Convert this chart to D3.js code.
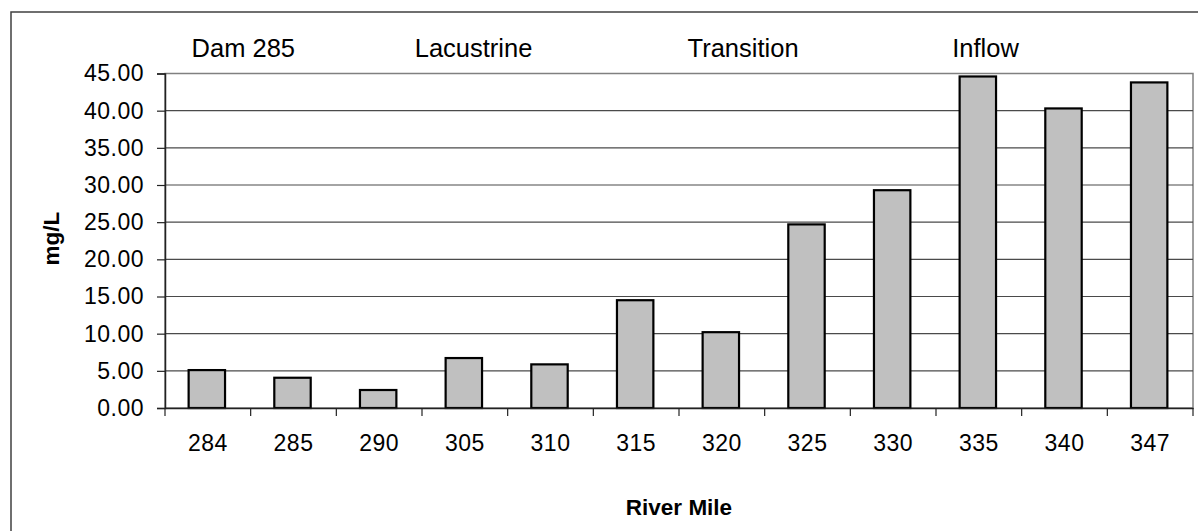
<!DOCTYPE html>
<html>
<head>
<meta charset="utf-8">
<script src="https://cdn.jsdelivr.net/npm/d3@7"></script>
<style>
  html, body { margin: 0; padding: 0; background: #fff; }
  svg { display: block; font-family: Arial, "Liberation Sans", sans-serif; }
</style>
</head>
<body>
<svg id="chart" width="1198" height="531"></svg>
<script>
const categories = ["284", "285", "290", "305", "310", "315", "320", "325", "330", "335", "340", "347"];
const values = [5.1, 4.07, 2.42, 6.72, 5.87, 14.5, 10.2, 24.7, 29.3, 44.6, 40.3, 43.8];
const yTicks = [0, 5, 10, 15, 20, 25, 30, 35, 40, 45];
const zoneLabels = ["Dam 285", "Lacustrine", "Transition", "Inflow"];
const yTitle = "mg/L";
const xTitle = "River Mile";

const svg = d3.select("#chart");
const plot = { left: 165, right: 1193, top: 73.5, bottom: 408 };

// outer frame
svg.append("rect")
  .attr("x", 11).attr("y", 12).attr("width", 1200).attr("height", 600)
  .attr("fill", "none").attr("stroke", "#404040").attr("stroke-width", 1.5);

const x = d3.scaleBand().domain(categories).range([plot.left, plot.right]).paddingInner(0).paddingOuter(0);
const y = d3.scaleLinear().domain([0, 45]).range([plot.bottom, plot.top]);

// plot area border
svg.append("rect")
  .attr("x", plot.left).attr("y", plot.top)
  .attr("width", plot.right - plot.left).attr("height", plot.bottom - plot.top)
  .attr("fill", "none").attr("stroke", "#808080").attr("stroke-width", 1.5);

// gridlines
svg.append("g").selectAll("line").data(yTicks.filter(d => d > 0 && d < 45)).join("line")
  .attr("x1", plot.left).attr("x2", plot.right)
  .attr("y1", d => y(d)).attr("y2", d => y(d))
  .attr("stroke", "#4a4a4a").attr("stroke-width", 1.2);

// y axis
const yAxis = svg.append("g").attr("transform", `translate(${plot.left},0)`)
  .call(d3.axisLeft(y).tickValues(yTicks).tickFormat(d3.format(".2f")).tickSize(8).tickPadding(13));
yAxis.select(".domain").attr("stroke", "#222").attr("stroke-width", 1.5);
yAxis.selectAll(".tick line").attr("stroke", "#222").attr("stroke-width", 1.2);
yAxis.selectAll(".tick text").attr("font-size", 23).attr("fill", "#000")
  .attr("font-family", "Arial, 'Liberation Sans', sans-serif").style("letter-spacing", "0.5px");

// bars
const barW = x.bandwidth() * 0.425;
svg.append("g").selectAll("rect").data(values).join("rect")
  .attr("x", (d, i) => x(categories[i]) + x.bandwidth() / 2 - barW / 2 - 1)
  .attr("y", d => y(d))
  .attr("width", barW)
  .attr("height", d => y(0) - y(d))
  .attr("fill", "#c0c0c0").attr("stroke", "#000").attr("stroke-width", 2.2);

// x axis
const xAxis = svg.append("g").attr("transform", `translate(0,${plot.bottom})`)
  .call(d3.axisBottom(x).tickSize(0).tickPadding(27));
xAxis.select(".domain").attr("stroke", "#222").attr("stroke-width", 1.5);
xAxis.selectAll(".tick text").attr("font-size", 23).attr("fill", "#000")
  .attr("font-family", "Arial, 'Liberation Sans', sans-serif").style("letter-spacing", "0.5px");
// boundary ticks between categories
const bounds = categories.map(c => x(c)).concat([plot.right]);
svg.append("g").selectAll("line").data(bounds).join("line")
  .attr("x1", d => d).attr("x2", d => d)
  .attr("y1", plot.bottom).attr("y2", plot.bottom + 8)
  .attr("stroke", "#222").attr("stroke-width", 1.2);

// zone labels (placed along a fractional band-index scale)
const idx = d3.scaleLinear().domain([0, categories.length]).range([plot.left, plot.right]);
const zonePos = [0.31, 2.915, 6.1, 9.19];
svg.append("g").selectAll("text").data(zoneLabels).join("text")
  .attr("x", (d, i) => idx(zonePos[i]))
  .attr("y", 57)
  .attr("font-size", 25.5).attr("fill", "#000")
  .text(d => d);

// axis titles
svg.append("text")
  .attr("transform", `translate(58.5,238.7) rotate(-90)`)
  .attr("text-anchor", "middle")
  .attr("font-size", 22.5).attr("font-weight", "bold").attr("fill", "#000")
  .text(yTitle);

svg.append("text")
  .attr("x", (plot.left + plot.right) / 2).attr("y", 515)
  .attr("text-anchor", "middle")
  .attr("font-size", 22.5).attr("font-weight", "bold").attr("fill", "#000")
  .text(xTitle);
</script>
</body>
</html>
